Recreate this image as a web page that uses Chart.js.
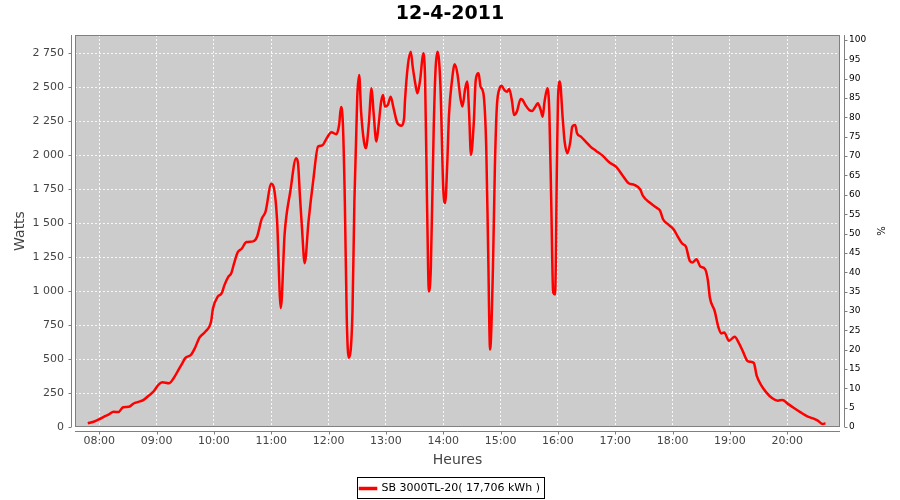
<!DOCTYPE html>
<html>
<head>
<meta charset="utf-8">
<title>12-4-2011</title>
<script src="https://cdn.jsdelivr.net/npm/chart.js@4.4.1/dist/chart.umd.min.js"></script>
<style>
    html, body { margin: 0; padding: 0; background: #ffffff; }
</style>
</head>
<body>
<canvas id="chart" width="900" height="500"></canvas>
<script>
// Readings of the day (time of day, watts)
const times = [
    '07:48', '07:54', '07:59', '08:06', '08:10', '08:15', '08:20', '08:25', '08:31', '08:36',
    '08:41', '08:46', '08:52', '08:57', '09:02', '09:06', '09:13', '09:18', '09:23', '09:27',
    '09:30', '09:36', '09:40', '09:45', '09:51', '09:57', '09:59', '10:04', '10:08', '10:11',
    '10:15', '10:18', '10:21', '10:25', '10:29', '10:34', '10:41', '10:45', '10:50', '10:54',
    '11:00', '11:03', '11:06', '11:10', '11:14', '11:20', '11:26', '11:28', '11:30', '11:32',
    '11:35', '11:39', '11:44', '11:49', '11:53', '11:59', '12:03', '12:08', '12:11', '12:13',
    '12:15', '12:17', '12:19', '12:21', '12:25', '12:27', '12:30', '12:32', '12:34', '12:37',
    '12:39', '12:42', '12:45', '12:47', '12:50', '12:52', '12:55', '12:57', '12:59', '13:02',
    '13:05', '13:08', '13:12', '13:16', '13:19', '13:20', '13:23', '13:26', '13:28', '13:31',
    '13:33', '13:36', '13:39', '13:41', '13:43', '13:45', '13:47', '13:50', '13:52', '13:54',
    '13:57', '14:00', '14:02', '14:04', '14:06', '14:09', '14:12', '14:15', '14:18', '14:20',
    '14:23', '14:25', '14:27', '14:29', '14:32', '14:34', '14:37', '14:39', '14:42', '14:45',
    '14:47', '14:49', '14:52', '14:54', '14:56', '14:59', '15:01', '15:04', '15:07', '15:09',
    '15:12', '15:14', '15:17', '15:21', '15:23', '15:26', '15:30', '15:33', '15:37', '15:39',
    '15:42', '15:44', '15:46', '15:49', '15:51', '15:53', '15:55', '15:57', '15:59', '16:00',
    '16:02', '16:05', '16:07', '16:10', '16:13', '16:15', '16:18', '16:20', '16:24', '16:29',
    '16:34', '16:40', '16:47', '16:54', '17:01', '17:08', '17:14', '17:20', '17:26', '17:29',
    '17:36', '17:43', '17:47', '17:50', '17:55', '18:01', '18:05', '18:10', '18:14', '18:18',
    '18:21', '18:25', '18:29', '18:34', '18:37', '18:39', '18:44', '18:48', '18:51', '18:54',
    '18:59', '19:05', '19:09', '19:14', '19:18', '19:21', '19:25', '19:28', '19:33', '19:38',
    '19:44', '19:50', '19:55', '20:00', '20:07', '20:14', '20:21', '20:26', '20:32', '20:37',
    '20:40'
];
const watts = [
    27, 39, 54, 80, 93, 112, 110, 146, 149, 173,
    185, 198, 232, 263, 312, 329, 322, 361, 422, 471,
    507, 532, 580, 659, 702, 776, 873, 959, 983, 1044,
    1105, 1129, 1202, 1288, 1312, 1361, 1366, 1398, 1532, 1585,
    1790, 1751, 1532, 875, 1422, 1737, 1978, 1940, 1700, 1480,
    1206, 1513, 1819, 2064, 2071, 2137, 2169, 2155, 2223, 2355,
    2223, 1660, 802, 510, 851, 1660, 2431, 2591, 2321, 2101,
    2052, 2223, 2493, 2321, 2101, 2199, 2395, 2444, 2358, 2370,
    2431, 2346, 2236, 2218, 2272, 2407, 2664, 2762, 2652, 2517,
    2456, 2566, 2750, 2554, 1660, 998, 1170, 2199, 2640, 2762,
    2517, 1758, 1648, 1905, 2297, 2542, 2669, 2591, 2419, 2358,
    2493, 2542, 2321, 2003, 2248, 2554, 2603, 2505, 2456, 2052,
    1292, 570, 1170, 1905, 2346, 2493, 2512, 2480, 2468, 2488,
    2395, 2297, 2321, 2414, 2407, 2370, 2333, 2326, 2365, 2382,
    2333, 2284, 2395, 2493, 2321, 1660, 990, 975, 1954, 2395,
    2542, 2272, 2101, 2015, 2101, 2211, 2223, 2162, 2137, 2101,
    2064, 2032, 1995, 1946, 1914, 1848, 1794, 1782, 1750, 1701,
    1652, 1615, 1591, 1529, 1493, 1456, 1407, 1350, 1326, 1223,
    1211, 1235, 1181, 1162, 1076, 953, 855, 733, 689, 696,
    635, 664, 623, 549, 488, 480, 471, 378, 304, 255,
    213, 194, 199, 174, 140, 108, 79, 66, 47, 22,
    27
];
const hourLabels = [
    '08:00', '09:00', '10:00', '11:00', '12:00', '13:00', '14:00',
    '15:00', '16:00', '17:00', '18:00', '19:00', '20:00'
];
const chartTitle = '12-4-2011';
const seriesLabel = 'SB 3000TL-20( 17,706 kWh )';

const FONT = "'DejaVu Sans', sans-serif";
const GRID_DASH = [2, 2];

function toMinutes(t) {
    const [h, m] = t.split(':').map(Number);
    return h * 60 + m;
}

function formatMinutes(v) {
    const h = Math.floor(v / 60);
    const m = Math.round(v % 60);
    return String(h).padStart(2, '0') + ':' + String(m).padStart(2, '0');
}

// "2 750" style thousands
function formatWatts(v) {
    return String(v).replace(/\B(?=(\d{3})+(?!\d))/g, ' ');
}

// Gray plot background, frame, offset axis lines and the legend box
const plotFrame = {
    id: 'plotFrame',
    beforeDraw(chart) {
        const { ctx, chartArea: a } = chart;
        ctx.save();
        ctx.fillStyle = '#cccccc';
        ctx.fillRect(a.left, a.top, a.right - a.left, a.bottom - a.top);
        ctx.restore();
    },
    afterDraw(chart) {
        const { ctx, chartArea: a, scales } = chart;
        const off = 4;
        ctx.save();
        ctx.strokeStyle = '#808080';
        ctx.lineWidth = 1;
        ctx.strokeRect(Math.round(a.left) + 0.5, Math.round(a.top) + 0.5,
            Math.round(a.right - a.left) - 1, Math.round(a.bottom - a.top) - 1);

        ctx.beginPath();
        const lx = Math.round(a.left - off) + 0.5;
        ctx.moveTo(lx, a.top);
        ctx.lineTo(lx, a.bottom);
        scales.y.ticks.forEach(t => {
            const py = Math.round(scales.y.getPixelForValue(t.value)) + 0.5;
            ctx.moveTo(lx - 3, py);
            ctx.lineTo(lx, py);
        });

        const by = Math.round(a.bottom + off) + 0.5;
        ctx.moveTo(a.left, by);
        ctx.lineTo(a.right, by);
        scales.x.ticks.forEach(t => {
            const px = Math.round(scales.x.getPixelForValue(t.value)) + 0.5;
            ctx.moveTo(px, by);
            ctx.lineTo(px, by + 3);
        });

        const rx = Math.round(a.right + off) + 0.5;
        ctx.moveTo(rx, a.top);
        ctx.lineTo(rx, a.bottom);
        scales.pct.ticks.forEach(t => {
            const py = Math.round(scales.pct.getPixelForValue(t.value)) + 0.5;
            ctx.moveTo(rx, py);
            ctx.lineTo(rx + 3, py);
        });
        ctx.stroke();

        const hb = chart.legend && chart.legend.legendHitBoxes[0];
        if (hb) {
            ctx.strokeStyle = '#000000';
            ctx.strokeRect(Math.round(hb.left - 3) + 0.5, Math.round(hb.top - 6) + 0.5,
                Math.round(hb.width + 7), 21);
        }
        ctx.restore();
    }
};

const points = times.map((t, i) => ({ x: toMinutes(t), y: watts[i] }));

new Chart(document.getElementById('chart'), {
    type: 'line',
    data: {
        datasets: [{
            label: seriesLabel,
            data: points,
            borderColor: '#ff0000',
            backgroundColor: '#ff0000',
            borderWidth: 2.5,
            pointRadius: 0,
            cubicInterpolationMode: 'monotone',
            yAxisID: 'y'
        }]
    },
    options: {
        responsive: false,
        animation: false,
        devicePixelRatio: 1,
        // the legend block carries 10px of extra space below, let it hang off the canvas
        layout: { padding: { top: 0, left: 0, right: 0, bottom: -4 } },
        plugins: {
            title: {
                display: true,
                text: chartTitle,
                color: '#000000',
                font: { family: FONT, size: 19, weight: 'bold', lineHeight: '23px' },
                padding: { top: 3, bottom: 9 }
            },
            legend: {
                display: true,
                position: 'bottom',
                labels: {
                    color: '#000000',
                    font: { family: FONT, size: 11 },
                    boxWidth: 16,
                    boxHeight: 1,
                    padding: 6
                }
            },
            tooltip: { enabled: false }
        },
        scales: {
            x: {
                type: 'linear',
                position: 'bottom',
                min: 454.6,
                max: 1255.2,
                afterBuildTicks: (scale) => {
                    scale.ticks = hourLabels.map(h => ({ value: toMinutes(h) }));
                },
                afterFit: (scale) => { scale.height = 50; },
                ticks: {
                    callback: (v) => formatMinutes(v),
                    color: '#444444',
                    font: { family: FONT, size: 11 },
                    padding: 8,
                    maxRotation: 0,
                    autoSkip: false
                },
                grid: {
                    color: 'rgba(255,255,255,0.85)',
                    lineWidth: 1,
                    drawTicks: false
                },
                border: { display: false, dash: GRID_DASH },
                title: {
                    display: true,
                    text: 'Heures',
                    color: '#444444',
                    font: { family: FONT, size: 14 },
                    padding: { top: 0, bottom: 8.5 }
                }
            },
            y: {
                type: 'linear',
                position: 'left',
                min: 0,
                max: 2885,
                afterFit: (scale) => { scale.width = 75; },
                ticks: {
                    stepSize: 250,
                    includeBounds: false,
                    callback: (v) => formatWatts(v),
                    color: '#444444',
                    font: { family: FONT, size: 11 },
                    padding: 11
                },
                grid: {
                    color: 'rgba(255,255,255,0.85)',
                    lineWidth: 1,
                    drawTicks: false
                },
                border: { display: false, dash: GRID_DASH },
                title: {
                    display: true,
                    text: 'Watts',
                    color: '#444444',
                    font: { family: FONT, size: 14 },
                    padding: { top: 11.6, bottom: 0 }
                }
            },
            pct: {
                type: 'linear',
                position: 'right',
                min: 0,
                max: 101.3,
                afterFit: (scale) => { scale.width = 60; },
                ticks: {
                    stepSize: 5,
                    includeBounds: false,
                    color: '#000000',
                    font: { family: FONT, size: 9 },
                    padding: 9
                },
                grid: { display: false, drawTicks: false },
                border: { display: false },
                title: {
                    display: true,
                    text: '%',
                    color: '#000000',
                    font: { family: FONT, size: 10 },
                    padding: { top: 14, bottom: 0 }
                }
            }
        }
    },
    plugins: [plotFrame]
});
</script>
</body>
</html>
